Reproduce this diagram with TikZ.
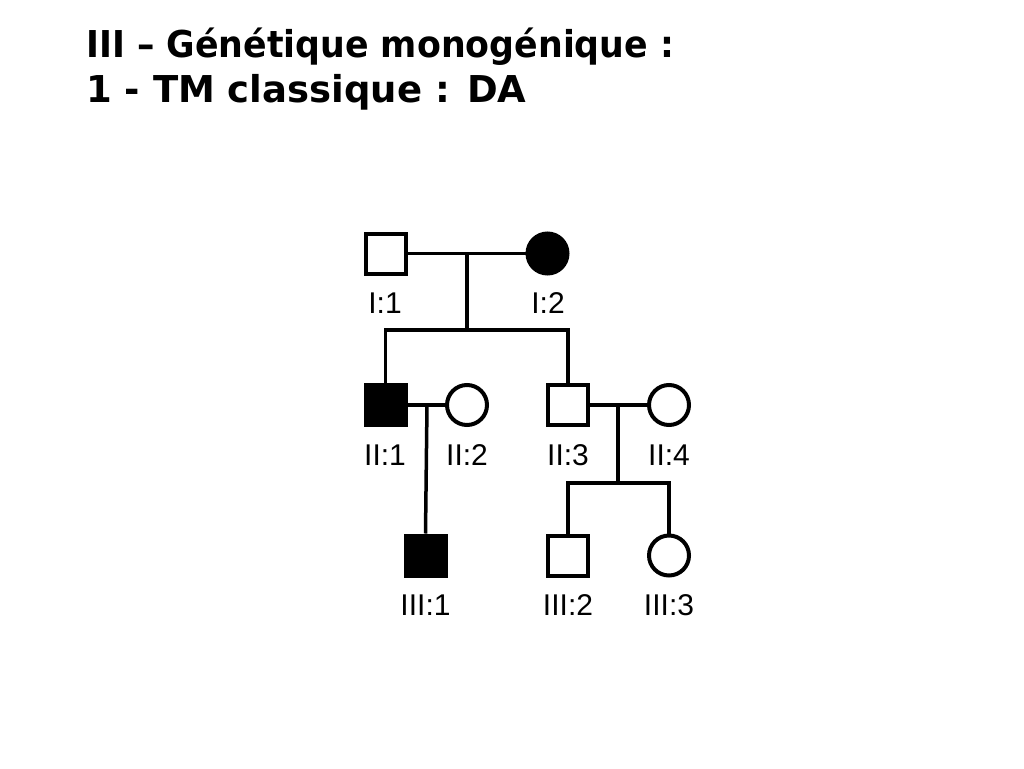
\documentclass[tikz,border=0pt]{standalone}
\usepackage{fontspec}
\setmainfont{Liberation Sans}
\newfontfamily\titlefont{DejaVu Sans}
\begin{document}
\begin{tikzpicture}[x=1pt,y=-1pt,
  lw/.style={line width=4pt},
  male/.style={draw,lw,rectangle,minimum size=40pt,inner sep=0pt},
  female/.style={draw,lw,circle,minimum size=40pt,inner sep=0pt},
  aff/.style={fill=black},
  lab/.style={font=\fontsize{30}{30}\selectfont,anchor=base},
  ttl/.style={anchor=base west,inner sep=0pt,font=\titlefont\bfseries\fontsize{37}{37}\selectfont},
  conn/.style={line width=3.5pt}]
\useasboundingbox (0,0) rectangle (1024,768);
\node[ttl,xscale=0.94] (t1) at (86,57) {III – Génétique monogénique :};
\node[ttl] (t2) at (86,102) {1 - TM classique : DA};
% generation I
\node[male] (i1) at (385.5,253.5) {};
\node[female,aff] (i2) at (547.5,253.5) {};
% generation II
\node[male,aff] (ii1) at (385.5,405) {};
\node[female] (ii2) at (467,405) {};
\node[male] (ii3) at (568,405) {};
\node[female] (ii4) at (669,405) {};
% generation III
\node[male,aff] (iii1) at (425.5,555.5) {};
\node[male] (iii2) at (568,555.5) {};
\node[female] (iii3) at (669,555.5) {};
% labels
\node[lab] (li1) at (385,313) {I:1};
\node[lab] (li2) at (548,313) {I:2};
\node[lab] (lii1) at (385,465) {II:1};
\node[lab] (lii2) at (467,465) {II:2};
\node[lab] (lii3) at (568,465) {II:3};
\node[lab] (lii4) at (669,465) {II:4};
\node[lab] (liii1) at (425.5,615) {III:1};
\node[lab] (liii2) at (568,615) {III:2};
\node[lab] (liii3) at (669,615) {III:3};
% coordinates
\coordinate (m1) at (467,253.5);
\coordinate (s1) at (467,330);
\coordinate (s1l) at (385.5,330);
\coordinate (s1r) at (568,330);
\coordinate (m2) at (427,405);
\coordinate (m3) at (618,405);
\coordinate (s3) at (618,483);
\coordinate (s3l) at (568,483);
\coordinate (s3r) at (669,483);
% connectors
\draw[conn] (i1.east) -- (i2.west);
\draw[conn] (m1) -- (s1);
\draw[conn,line cap=rect] (s1l) -- (s1r);
\draw[conn] (s1l) -- (ii1.north);
\draw[conn] (s1r) -- (ii3.north);
\draw[conn] (ii1.east) -- (ii2.west);
\draw[conn] (m2) -- (iii1.north);
\draw[conn] (ii3.east) -- (ii4.west);
\draw[conn] (m3) -- (s3);
\draw[conn,line cap=rect] (s3l) -- (s3r);
\draw[conn] (s3l) -- (iii2.north);
\draw[conn] (s3r) -- (iii3.north);
\end{tikzpicture}
\end{document}
